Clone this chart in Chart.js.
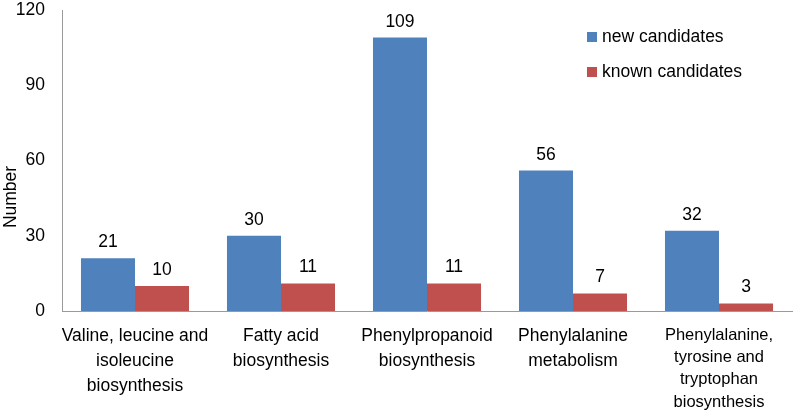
<!DOCTYPE html>
<html><head><meta charset="utf-8">
<script src="https://cdn.jsdelivr.net/npm/chart.js@4.4.0/dist/chart.umd.min.js"></script>
<style>html,body{margin:0;padding:0;background:#fff}#wrap{width:797px;height:418px}</style>
</head><body><div id="wrap"><canvas id="c" width="797" height="418"></canvas></div>
<script>
const categories = [
  ["Valine, leucine and","isoleucine","biosynthesis"],
  ["Fatty acid","biosynthesis"],
  ["Phenylpropanoid","biosynthesis"],
  ["Phenylalanine","metabolism"],
  ["Phenylalanine,","tyrosine and","tryptophan","biosynthesis"]
];
const newCandidates = [21, 30, 109, 56, 32];
const knownCandidates = [10, 11, 11, 7, 3];
const seriesNames = ["new candidates", "known candidates"];
const yTicks = [0, 30, 60, 90, 120];
const yTitle = "Number";

const FONT = "'Liberation Sans', Arial, sans-serif";
const FS = 17.5;

const valueLabels = {
  id: 'valueLabels',
  afterDatasetsDraw(chart) {
    const ctx = chart.ctx;
    ctx.save();
    ctx.fillStyle = '#000';
    ctx.font = FS + 'px ' + FONT;
    ctx.textAlign = 'center';
    ctx.textBaseline = 'alphabetic';
    chart.data.datasets.forEach((ds, i) => {
      chart.getDatasetMeta(i).data.forEach((bar, j) => {
        ctx.fillText(String(ds.data[j]), bar.x, bar.y - 11);
      });
    });
    ctx.restore();
  }
};

const extras = {
  id: 'extras',
  afterDraw(chart) {
    const ctx = chart.ctx;
    ctx.save();
    ctx.font = FS + 'px ' + FONT;
    ctx.textBaseline = 'middle';
    ctx.textAlign = 'left';
    const x0 = 587, ys = [37, 72];
    chart.data.datasets.forEach((ds, i) => {
      ctx.fillStyle = ds.backgroundColor;
      ctx.fillRect(x0, ys[i] - 5, 10, 10);
      ctx.fillStyle = '#000';
      ctx.fillText(ds.label, x0 + 15, ys[i]);
    });
    ctx.translate(11, 197);
    ctx.rotate(-Math.PI / 2);
    ctx.textAlign = 'center';
    ctx.fillText(yTitle, 0, 0);
    ctx.restore();
  }
};

new Chart(document.getElementById('c'), {
  type: 'bar',
  data: {
    labels: categories,
    datasets: [
      { label: seriesNames[0], data: newCandidates, backgroundColor: '#4F81BD' },
      { label: seriesNames[1], data: knownCandidates, backgroundColor: '#C0504D' }
    ]
  },
  options: {
    responsive: false,
    animation: false,
    layout: { padding: { left: 0, right: 5, top: 10, bottom: 0 } },
    datasets: { bar: { categoryPercentage: 0.74, barPercentage: 1.0 } },
    plugins: { legend: { display: false }, tooltip: { enabled: false } },
    scales: {
      x: {
        grid: { display: false, drawTicks: false },
        border: { color: '#9a9a9a', width: 1 },
        ticks: {
          color: '#000',
          font: (c) => (c.index === 4
            ? { family: FONT, size: 16.5, lineHeight: 1.35 }
            : { family: FONT, size: FS, lineHeight: 1.43 }),
          padding: 13, maxRotation: 0, autoSkip: false
        },
        afterFit(s) { s.height = 107; s.paddingLeft = 0; s.paddingRight = 0; }
      },
      y: {
        min: 0, max: 120,
        afterBuildTicks(s) { s.ticks = yTicks.map(v => ({ value: v })); },
        grid: { display: false, drawTicks: false },
        border: { color: '#9a9a9a', width: 1 },
        ticks: { color: '#000', font: { family: FONT, size: FS }, padding: 17 },
        afterFit(s) { s.width = 62; s.paddingTop = 0; s.paddingBottom = 0; }
      }
    }
  },
  plugins: [valueLabels, extras]
});
</script>
</body></html>
